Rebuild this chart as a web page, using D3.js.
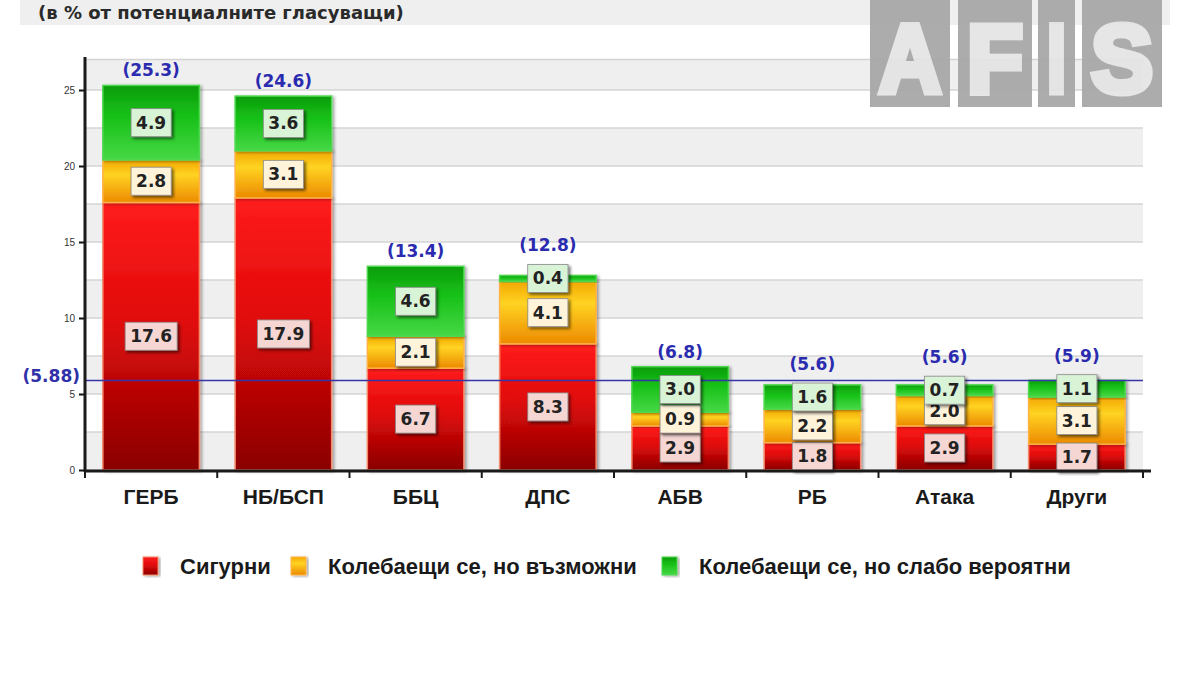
<!DOCTYPE html>
<html>
<head>
<meta charset="utf-8">
<script src="https://cdn.jsdelivr.net/npm/d3@7"></script>
<style>
  body { margin: 0; background: #fff; }
  svg text { font-family: "Liberation Sans", Arial, sans-serif; }
  svg text.wide { font-family: "DejaVu Sans", Verdana, sans-serif; }
</style>
</head>
<body>
<div id="chart"></div>
<script>

// chart data
const parties = ["ГЕРБ", "НБ/БСП", "ББЦ", "ДПС", "АБВ", "РБ", "Атака", "Други"];
const sure = [17.6, 17.9, 6.7, 8.3, 2.9, 1.8, 2.9, 1.7];
const possible = [2.8, 3.1, 2.1, 4.1, 0.9, 2.2, 2.0, 3.1];
const unlikely = [4.9, 3.6, 4.6, 0.4, 3.0, 1.6, 0.7, 1.1];
const totals = [25.3, 24.6, 13.4, 12.8, 6.8, 5.6, 5.6, 5.9];
const seriesNames = ["Сигурни", "Колебаещи се, но възможни", "Колебаещи се, но слабо вероятни"];
const yTicks = [0, 5, 10, 15, 20, 25];
const refValue = 5.88;
const subtitle = "(в % от потенциалните гласуващи)";

const width = 1200, height = 675;
const margin = {top: 59.6, left: 85, right: 57, bottom: 205};

const svg = d3.select("#chart").append("svg")
    .attr("width", width)
    .attr("height", height);

const defs = svg.append("defs");

// gradients for the three series
const gradStops = [
    [["0%", "#ff1c1c"], ["45%", "#e00a0a"], ["100%", "#8a0000"]],
    [["0%", "#f2a800"], ["35%", "#ffd322"], ["100%", "#ec8a00"]],
    [["0%", "#0c9c0c"], ["40%", "#16c016"], ["100%", "#46d846"]]
];
gradStops.forEach(function (stops, i) {
    let g = defs.append("linearGradient")
        .attr("id", "grad" + i)
        .attr("x1", 0).attr("y1", 0).attr("x2", 0).attr("y2", 1);
    stops.forEach(function (s) {
        g.append("stop").attr("offset", s[0]).attr("stop-color", s[1]);
    });
});
const borderColors = ["#f58a6a", "#ffb347", "#4fd84f"];
const boxColors = ["#f6d6d2", "#fff3da", "#d9f3d6"];

defs.append("filter").attr("id", "shadow")
    .attr("x", "-20%").attr("y", "-20%").attr("width", "150%").attr("height", "150%")
    .append("feDropShadow")
    .attr("dx", 2).attr("dy", 2).attr("stdDeviation", 1.5)
    .attr("flood-color", "#000").attr("flood-opacity", 0.55);

defs.append("filter").attr("id", "barShadow")
    .attr("x", "-10%").attr("y", "-10%").attr("width", "125%").attr("height", "125%")
    .append("feDropShadow")
    .attr("dx", 2).attr("dy", 1).attr("stdDeviation", 1.5)
    .attr("flood-color", "#000").attr("flood-opacity", 0.35);

// header band + subtitle
svg.append("rect")
    .attr("x", 20).attr("y", 0).attr("width", 1150).attr("height", 25)
    .attr("fill", "#efefef");
svg.append("text")
    .attr("class", "wide")
    .attr("x", 38).attr("y", 12)
    .attr("dominant-baseline", "central")
    .attr("font-size", 18).attr("font-weight", "bold")
    .attr("fill", "#2a2a2a")
    .text(subtitle);

// scales
const x = d3.scaleBand()
    .domain(parties)
    .range([margin.left, width - margin.right])
    .paddingInner(0.27)
    .paddingOuter(0.135);

const y = d3.scaleLinear()
    .domain([0, 27])
    .range([470, margin.top]);

// background bands every 2.5
const bandEdges = d3.range(0, 27, 2.5);
svg.append("g").selectAll("rect")
    .data(bandEdges.filter(function (d, i) { return i % 2 === 0; }))
    .enter().append("rect")
    .attr("x", margin.left)
    .attr("y", function (d) { return y(Math.min(d + 2.5, 27)); })
    .attr("width", x.range()[1] - margin.left)
    .attr("height", function (d) { return y(d) - y(Math.min(d + 2.5, 27)); })
    .attr("fill", "#efefef");

svg.append("g").selectAll("line")
    .data(bandEdges.concat([27]))
    .enter().append("line")
    .attr("x1", margin.left).attr("x2", x.range()[1])
    .attr("y1", function (d) { return y(d); })
    .attr("y2", function (d) { return y(d); })
    .attr("stroke", "#d4d4d4").attr("stroke-width", 1.5);

// AFIS logo blocks (watermark on top of the grid)
const logo = [{l: "A", x: 870, w: 80}, {l: "F", x: 958, w: 74}, {l: "I", x: 1038, w: 37}, {l: "S", x: 1082, w: 80}];
const logoG = svg.append("g").attr("opacity", 0.92);
logo.forEach(function (d) {
    logoG.append("rect")
        .attr("x", d.x).attr("y", 0).attr("width", d.w).attr("height", 107)
        .attr("fill", "#a6a6a6");
    logoG.append("text")
        .attr("x", d.x + d.w / 2).attr("y", 92)
        .attr("text-anchor", "middle")
        .attr("font-family", "DejaVu Sans")
        .attr("font-weight", "bold")
        .attr("font-size", 97)
        .attr("textLength", d.w - 18)
        .attr("lengthAdjust", "spacingAndGlyphs")
        .attr("fill", "#e4e4e4")
        .attr("stroke", "#e4e4e4")
        .attr("stroke-width", 7)
        .attr("stroke-linejoin", "miter")
        .text(d.l);
});

// stacked bars
const rows = parties.map(function (p, i) {
    return {party: p, s0: sure[i], s1: possible[i], s2: unlikely[i], total: totals[i]};
});
const stack = d3.stack().keys(["s0", "s1", "s2"]);
const series = stack(rows);

const layers = svg.append("g").selectAll("g.layer")
    .data(series)
    .enter().append("g")
    .attr("class", "layer");

layers.selectAll("rect")
    .data(function (d, i) { return d.map(function (v) { return {v: v, k: i}; }); })
    .enter().append("rect")
    .attr("x", function (d) { return x(d.v.data.party); })
    .attr("y", function (d) { return y(d.v[1]); })
    .attr("width", x.bandwidth())
    .attr("height", function (d) { return y(d.v[0]) - y(d.v[1]); })
    .attr("fill", function (d) { return "url(#grad" + d.k + ")"; })
    .attr("stroke", function (d) { return borderColors[d.k]; })
    .attr("stroke-width", 1.5)
    .attr("filter", "url(#barShadow)");

// reference line
svg.append("line")
    .attr("x1", margin.left).attr("x2", x.range()[1])
    .attr("y1", y(refValue)).attr("y2", y(refValue))
    .attr("stroke", "#3535a8").attr("stroke-width", 1.5);
svg.append("text")
    .attr("class", "wide")
    .attr("x", 80).attr("y", y(refValue) - 5)
    .attr("text-anchor", "end")
    .attr("dominant-baseline", "central")
    .attr("font-size", 17).attr("font-weight", "bold")
    .attr("fill", "#3030a8")
    .text("(" + refValue.toFixed(2) + ")");

// value labels in boxes
const labelG = svg.append("g");
series.forEach(function (s, k) {
    s.forEach(function (v) {
        let cx = x(v.data.party) + x.bandwidth() / 2;
        let cy = y((v[0] + v[1]) / 2);
        let g = labelG.append("g");
        let t = g.append("text")
            .attr("class", "wide")
            .attr("x", cx).attr("y", cy)
            .attr("text-anchor", "middle")
            .attr("dominant-baseline", "central")
            .attr("font-size", 17).attr("font-weight", "bold")
            .attr("fill", "#222")
            .text((v[1] - v[0]).toFixed(1));
        let bb = t.node().getBBox();
        g.insert("rect", "text")
            .attr("x", cx - bb.width / 2 - 5)
            .attr("y", cy - 14)
            .attr("width", bb.width + 10)
            .attr("height", 28)
            .attr("fill", boxColors[k])
            .attr("stroke", "#8a8a8a").attr("stroke-width", 0.8)
            .attr("filter", "url(#shadow)");
    });
});

// totals above bars
svg.append("g").selectAll("text")
    .data(rows)
    .enter().append("text")
    .attr("class", "wide")
    .attr("x", function (d) { return x(d.party) + x.bandwidth() / 2; })
    .attr("y", function (d) {
        let topLabel = y(d.total - d.s2 / 2);
        return Math.min(y(d.total) - 15, topLabel - 33);
    })
    .attr("text-anchor", "middle")
    .attr("dominant-baseline", "central")
    .attr("font-size", 17).attr("font-weight", "bold")
    .attr("fill", "#2b2bb0")
    .text(function (d) { return "(" + d.total.toFixed(1) + ")"; });

// y axis
const yAxis = svg.append("g")
    .attr("transform", "translate(" + margin.left + ",0)")
    .call(d3.axisLeft(y).tickValues(yTicks).tickSize(6).tickPadding(4));
yAxis.select(".domain").remove();
yAxis.selectAll(".tick line").attr("stroke", "#111").attr("stroke-width", 2);
yAxis.selectAll(".tick text")
    .attr("font-size", 10).attr("fill", "#333")
    .attr("font-family", "Liberation Sans, Arial, sans-serif");
svg.append("line")
    .attr("x1", margin.left).attr("x2", margin.left)
    .attr("y1", 57).attr("y2", 472)
    .attr("stroke", "#1a1a1a").attr("stroke-width", 3);

// x axis
const step = x.step();
const boundaries = d3.range(0, parties.length + 1).map(function (i) { return margin.left + i * step; });
svg.append("line")
    .attr("x1", margin.left).attr("x2", x.range()[1] + 8)
    .attr("y1", 471).attr("y2", 471)
    .attr("stroke", "#1a1a1a").attr("stroke-width", 3);
svg.append("g").selectAll("line")
    .data(boundaries)
    .enter().append("line")
    .attr("x1", function (d) { return d; }).attr("x2", function (d) { return d; })
    .attr("y1", 471).attr("y2", 478)
    .attr("stroke", "#1a1a1a").attr("stroke-width", 2);

svg.append("g").selectAll("text")
    .data(parties)
    .enter().append("text")
    .attr("x", function (d) { return x(d) + x.bandwidth() / 2; })
    .attr("y", 496)
    .attr("text-anchor", "middle")
    .attr("dominant-baseline", "central")
    .attr("font-size", 21).attr("font-weight", "bold")
    .attr("fill", "#1a1a1a")
    .text(function (d) { return d; });

// legend
const legendX = [143, 291, 662];
const legend = svg.append("g").selectAll("g")
    .data(seriesNames)
    .enter().append("g")
    .attr("transform", function (d, i) { return "translate(" + legendX[i] + ",566)"; });
legend.append("rect")
    .attr("x", 0).attr("y", -9)
    .attr("width", 15).attr("height", 18)
    .attr("fill", function (d, i) { return "url(#grad" + i + ")"; })
    .attr("stroke", function (d, i) { return borderColors[i]; })
    .attr("stroke-width", 1)
    .attr("filter", "url(#barShadow)");
legend.append("text")
    .attr("x", 37).attr("y", 0)
    .attr("dominant-baseline", "central")
    .attr("font-size", 22).attr("font-weight", "bold")
    .attr("fill", "#1a1a1a")
    .text(function (d) { return d; });

</script>
</body>
</html>
